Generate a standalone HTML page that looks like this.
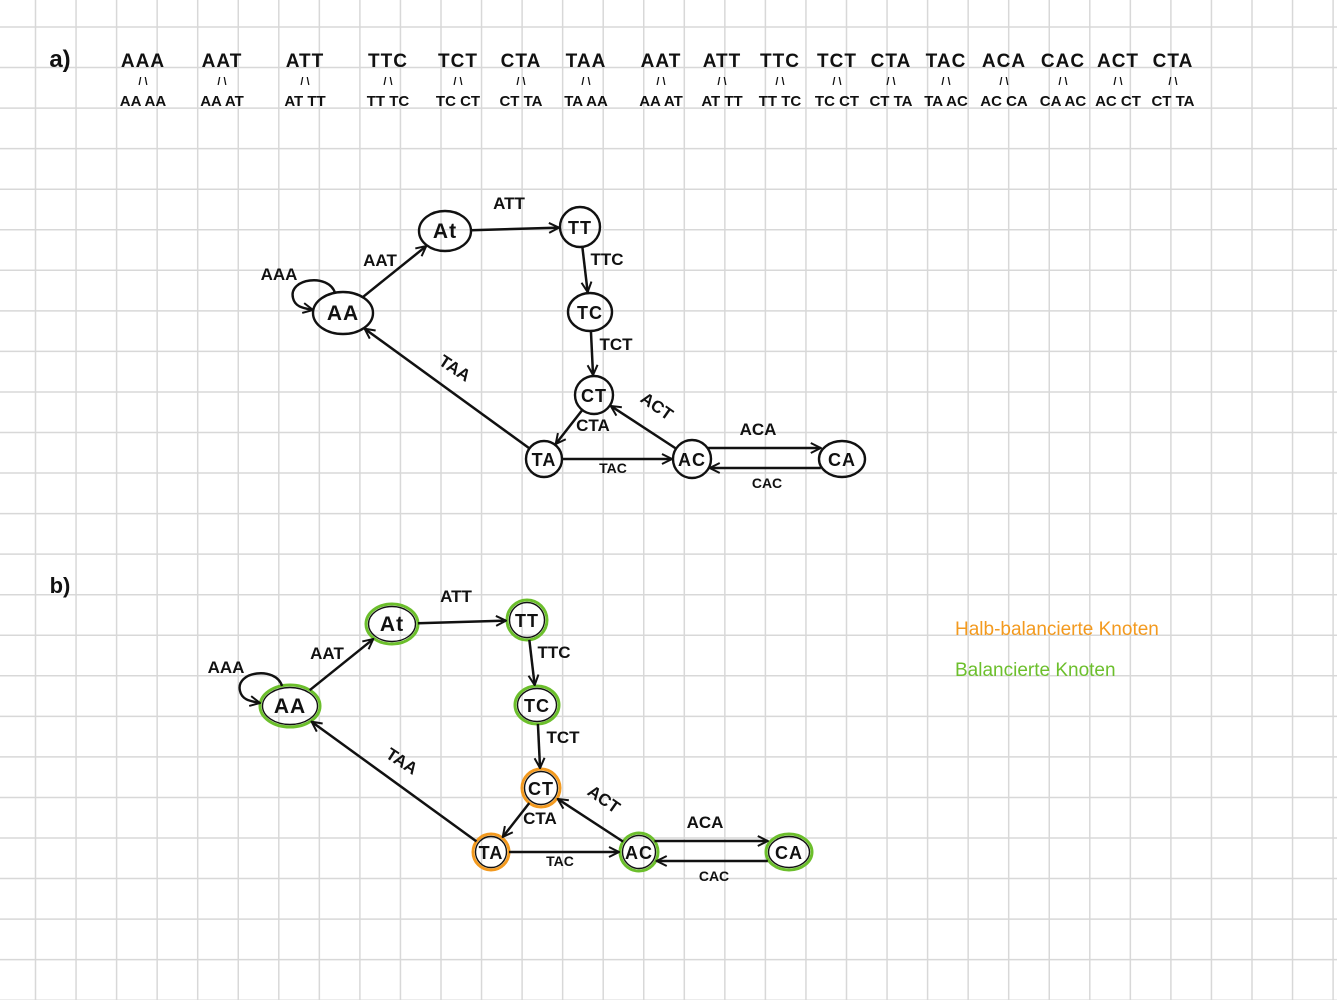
<!DOCTYPE html>
<html><head><meta charset="utf-8">
<style>
html,body{margin:0;padding:0;background:#fff;}
svg{display:block;}
text{font-family:"Liberation Sans",sans-serif;font-weight:bold;fill:#111;}
</style></head>
<body>
<svg id="s" width="1337" height="1000" viewBox="0 0 1337 1000" xmlns="http://www.w3.org/2000/svg">
<defs>
<marker id="ar" viewBox="0 0 12 12" refX="11" refY="6" markerWidth="12" markerHeight="12" orient="auto" markerUnits="userSpaceOnUse">
<path d="M1,1 L11,6 L1,11" fill="none" stroke="#111" stroke-width="2"/>
</marker>
</defs>
<g id="grid"></g>
<g id="content"></g>
</svg>
<script>
const NS="http://www.w3.org/2000/svg";
const kmers=["AAA","AAT","ATT","TTC","TCT","CTA","TAA","AAT","ATT","TTC","TCT","CTA","TAC","ACA","CAC","ACT","CTA"];
const kmerX=[143,222,305,388,458,521,586,661,722,780,837,891,946,1004,1063,1118,1173];
const nodeNames=["AA","AT","TT","TC","CT","TA","AC","CA"];
const nodeLabels=["AA","At","TT","TC","CT","TA","AC","CA"];
const nodeCx=[343,445,580,590,594,544,692,842];
const nodeCy=[313,231,227,312,395,459,459,459];
const nodeRx=[30,26,20,22,19,18,19,23];
const nodeRy=[21,20,20,19,19,18,19,18];
const balanceB=["g","g","g","g","o","o","g","g"];
const edgeFrom=["AA","AT","TT","TC","CT","TA","AC","AC","CA","TA"];
const edgeTo=["AT","TT","TC","CT","TA","AC","CT","CA","AC","AA"];
const edgeLabel=["AAT","ATT","TTC","TCT","CTA","TAC","ACT","ACA","CAC","TAA"];
const edgeLx=[380,509,607,616,593,613,657,758,767,455];
const edgeLy=[266,209,265,350,431,473,412,435,488,374];
const edgeRot=[0,0,0,0,0,0,35,0,0,33];
const edgeShift=[0,0,0,0,0,0,0,-11,9,0];

const svg=document.getElementById('s');
const grid=document.getElementById('grid');
const content=document.getElementById('content');
function mk(tag,attrs,parent){const e=document.createElementNS(NS,tag);for(const k in attrs)e.setAttribute(k,attrs[k]);(parent||content).appendChild(e);return e;}
for(let i=0;i<34;i++){const x=35.5+i*40.55;const l=mk('line',{x1:x,y1:0,x2:x,y2:1000,stroke:'#d8d8d8','stroke-width':1.5},grid);

}
for(let j=0;j<25;j++){const y=27+j*40.55;const l=mk('line',{x1:0,y1:y,x2:1337,y2:y,stroke:'#d8d8d8','stroke-width':1.5},grid);

}

function txt(s,x,y,size,attrs){const t=mk('text',Object.assign({x:x,y:y,'font-size':size,'text-anchor':'middle'},attrs||{}));t.textContent=s;return t;}
let t=txt('a)',60,67,24,{'font-weight':'normal'});


t=txt('b)',60,593,22,{'font-weight':'normal'});


kmers.forEach((k,i)=>{
  const x=kmerX[i];
  const a=txt(k,x,67,19,{'letter-spacing':'1'});
  
  
  const b=txt(k.slice(0,2)+' '+k.slice(1),x,106,15);
  
  
  const m=txt('/   \\',x,85,11);
  
  
});
function idx(n){return nodeNames.indexOf(n);}
function drawGraph(dx,dy,colored,prefix){
  nodeNames.forEach((n,i)=>{
    const col=colored?(balanceB[i]==='g'?'#6cbf2c':'#f39a1f'):'#111';
    const e=mk('ellipse',{cx:nodeCx[i]+dx,cy:nodeCy[i]+dy,rx:nodeRx[i],ry:nodeRy[i],fill:'none',stroke:col,'stroke-width':colored?3:2.4});
    
    
    if(colored){mk('ellipse',{cx:nodeCx[i]+dx,cy:nodeCy[i]+dy,rx:nodeRx[i]-2.5,ry:nodeRy[i]-2.5,fill:'none',stroke:'#111','stroke-width':1.4});}
    const t=txt(nodeLabels[i],nodeCx[i]+dx,nodeCy[i]+dy+7,nodeRx[i]>25?21:18,{'letter-spacing':'1'});
    
    
  });
  const a=idx('AA');const ax=nodeCx[a]+dx, ay=nodeCy[a]+dy;
  const lp=mk('path',{d:`M${ax-8},${ay-20} C${ax-14},${ay-40} ${ax-55},${ay-35} ${ax-50},${ay-15} C${ax-48},${ay-6} ${ax-40},${ay-5} ${ax-30},${ay-3}`,fill:'none',stroke:'#111','stroke-width':2.4,'marker-end':'url(#ar)'});
  
  
  const lt=txt('AAA',nodeCx[a]+dx-64,nodeCy[a]+dy-33,17);
  
  
  edgeFrom.forEach((f,i)=>{
    const p=idx(f),q=idx(edgeTo[i]);
    let x1=nodeCx[p]+dx,y1=nodeCy[p]+dy,x2=nodeCx[q]+dx,y2=nodeCy[q]+dy;
    const ang=Math.atan2(y2-y1,x2-x1);
    const s=edgeShift[i];
    y1+=s;y2+=s;
    function off(k,a2){return Math.sqrt(1/((Math.cos(a2)/nodeRx[k])**2+(Math.sin(a2)/nodeRy[k])**2));}
    const r1=s?Math.sqrt(Math.max(nodeRx[p]**2-s*s,1)):off(p,ang);
    const r2=s?Math.sqrt(Math.max(nodeRx[q]**2-s*s,1)):off(q,ang);
    const l=mk('line',{x1:x1+Math.cos(ang)*r1,y1:y1+Math.sin(ang)*r1,x2:x2-Math.cos(ang)*(r2+1),y2:y2-Math.sin(ang)*(r2+1),stroke:'#111','stroke-width':2.5,'marker-end':'url(#ar)'});
    
    
    const lx=edgeLx[i]+dx,ly=edgeLy[i]+dy;
    const t=txt(edgeLabel[i],lx,ly,edgeLabel[i]==='TAC'||edgeLabel[i]==='CAC'?14:17,{transform:`rotate(${edgeRot[i]} ${lx} ${ly-6})`});
    
    
  });
}
drawGraph(0,0,false,'a-');
drawGraph(-53,393,true,'b-');
let l1=txt('Halb-balancierte Knoten',955,635,19,{'text-anchor':'start',style:'fill:#f39a1f;font-weight:normal'});


let l2=txt('Balancierte Knoten',955,676,19,{'text-anchor':'start',style:'fill:#6cbf2c;font-weight:normal'});


</script>
</body></html>
